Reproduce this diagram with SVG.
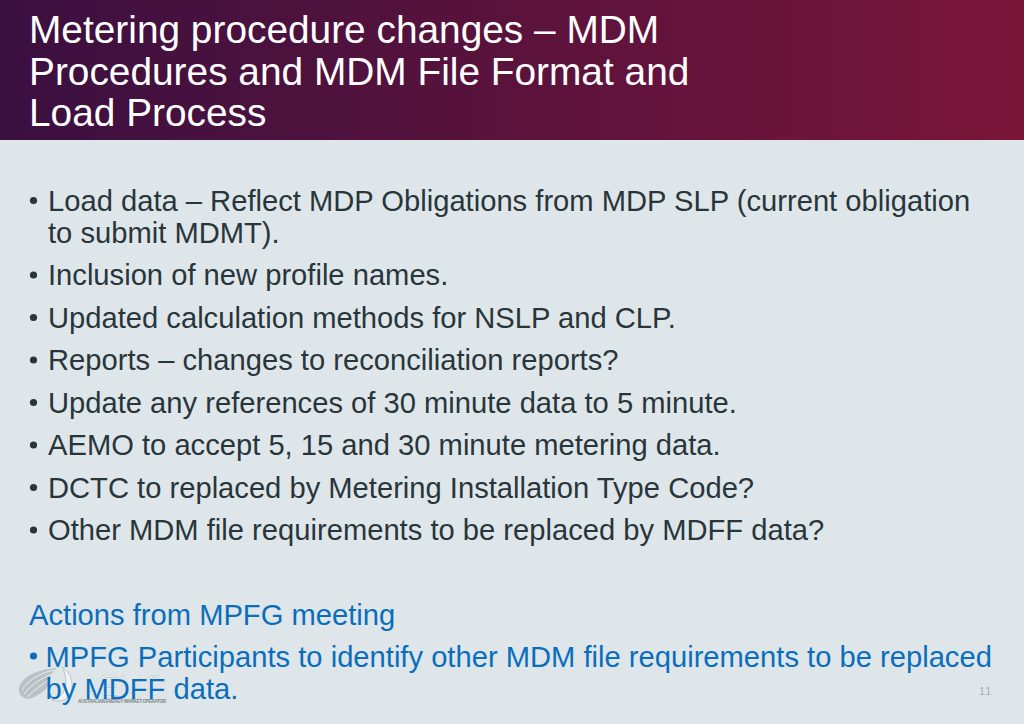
<svg xmlns="http://www.w3.org/2000/svg" width="1024" height="724" viewBox="0 0 1024 724">
<defs>
<linearGradient id="hd" x1="0" y1="0" x2="1" y2="0"><stop offset="0" stop-color="#3a1040"/><stop offset="1" stop-color="#7a1538"/></linearGradient>
<style>
text{font-family:"Liberation Sans",Arial,sans-serif}
.t{font-size:38.85px;fill:#fff}
.b{font-size:29.16px;fill:#28363c}
.c{font-size:29.16px;fill:#0a6ebd}
.d{fill:#28363c}
.s{fill:none;stroke:#eef2f3;stroke-width:0.9}
</style>
</defs>
<rect width="1024" height="724" fill="#dfe6e9"/>
<rect width="1024" height="140" fill="url(#hd)"/>
<g id="title">
<text class="t" x="29" y="43">Metering procedure changes – MDM</text>
<text class="t" x="29" y="84.500">Procedures and MDM File Format and</text>
<text class="t" x="29" y="126">Load Process</text>
</g>
<g id="logo">
<path d="M19 688C21 677 38 669 57 668C52 672 50 676 50 682C47 690 38 697 27 699C21 697 18 693 19 688Z" fill="#b9c1c5"/>
<path class="s" d="M22 690C28 680 40 673 54 670M24 694C32 684 42 678 52 674M27 697C34 690 43 684 50 679"/>
<path d="M62 667C72 673 75 687 69 696C65 701 58 702 52 700C60 698 65 692 66 684C66 677 65 672 62 667Z" fill="#f1f4f5" stroke="#a9b2b6" stroke-width="0.7"/>
<text x="80" y="698" font-size="33" textLength="86" lengthAdjust="spacingAndGlyphs" fill="none" stroke="#f3f5f6" stroke-width="1.4">AEMO</text>
<text x="80" y="698" font-size="33" textLength="86" lengthAdjust="spacingAndGlyphs" fill="none" stroke="#aab2b6" stroke-width="0.4">AEMO</text>
<text x="78" y="703" font-size="4.6" textLength="88" fill="#7d868b" font-weight="bold">AUSTRALIAN ENERGY MARKET OPERATOR</text>
</g>
<g id="bullets" class="d">
<circle cx="33.500" cy="200.500" r="3.600"/><circle cx="33.500" cy="275" r="3.600"/><circle cx="33.500" cy="317.500" r="3.600"/><circle cx="33.500" cy="360" r="3.600"/><circle cx="33.500" cy="402.500" r="3.600"/><circle cx="33.500" cy="445" r="3.600"/><circle cx="33.500" cy="487.500" r="3.600"/><circle cx="33.500" cy="530" r="3.600"/>
</g>
<g id="body">
<text class="b" x="48" y="210.500">Load data – Reflect MDP Obligations from MDP SLP (current obligation</text>
<text class="b" x="48" y="242.500">to submit MDMT).</text>
<text class="b" x="48" y="285">Inclusion of new profile names.</text>
<text class="b" x="48" y="327.500">Updated calculation methods for NSLP and CLP.</text>
<text class="b" x="48" y="370">Reports – changes to reconciliation reports?</text>
<text class="b" x="48" y="412.500">Update any references of 30 minute data to 5 minute.</text>
<text class="b" x="48" y="455">AEMO to accept 5, 15 and 30 minute metering data.</text>
<text class="b" x="48" y="497.500">DCTC to replaced by Metering Installation Type Code?</text>
<text class="b" x="48" y="540">Other MDM file requirements to be replaced by MDFF data?</text>
</g>
<g id="actions">
<text class="c" x="29" y="624.500">Actions from MPFG meeting</text>
<circle cx="33.500" cy="656" r="3.600" fill="#0a6ebd"/>
<text class="c" x="45.500" y="667">MPFG Participants to identify other MDM file requirements to be replaced</text>
<text class="c" x="45.500" y="699">by MDFF data.</text>
</g>
<text id="page" x="979" y="694.500" font-size="11" letter-spacing="1" fill="#a4acb0">11</text>
</svg>
